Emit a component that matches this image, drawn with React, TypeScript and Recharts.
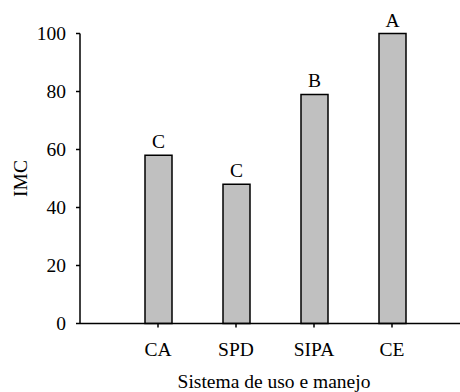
import React from 'react';
import { BarChart, Bar, XAxis, YAxis, LabelList } from 'recharts';

const categories = ['CA', 'SPD', 'SIPA', 'CE'];
const imcValues = [58, 48, 79, 100];
const letters = ['C', 'C', 'B', 'A'];
const yTicks = [0, 20, 40, 60, 80, 100];

const data = categories.map((c, i) => ({ name: c, imc: imcValues[i], letter: letters[i] }));

const FONT = '"Liberation Serif", "Times New Roman", serif';
const FS = 19.5;

export default function App() {
  return (
    <div style={{ position: 'absolute', left: 0, top: 0, width: 460, height: 392, background: '#fff' }}>
      <BarChart
        width={460}
        height={392}
        data={data}
        margin={{ top: 33.5, right: 0, bottom: 0, left: 0 }}
        barCategoryGap={0}
      >
        <XAxis
          dataKey="name"
          type="category"
          height={68.5}
          padding={{ left: 39, right: 29 }}
          axisLine={{ stroke: '#000', strokeWidth: 1.5 }}
          tickLine={{ stroke: '#000', strokeWidth: 1.5 }}
          tickSize={4}
          tickMargin={15}
          tick={{ fill: '#000', fontFamily: FONT, fontSize: FS }}
          label={{
            value: 'Sistema de uso e manejo',
            position: 'insideBottom',
            offset: 4,
            dx: 4,
            fill: '#000',
            fontFamily: FONT,
            fontSize: FS,
          }}
        />
        <YAxis
          type="number"
          domain={[0, 100]}
          ticks={yTicks}
          width={80}
          axisLine={{ stroke: '#000', strokeWidth: 1.5 }}
          tickLine={{ stroke: '#000', strokeWidth: 1.5 }}
          tickSize={4}
          tickMargin={10}
          tick={{ fill: '#000', fontFamily: FONT, fontSize: FS }}
          label={{
            value: 'IMC',
            angle: -90,
            position: 'insideLeft',
            offset: 20,
            style: { textAnchor: 'middle' },
            fill: '#000',
            fontFamily: FONT,
            fontSize: FS,
          }}
        />
        <Bar dataKey="imc" fill="#c0c0c0" stroke="#000" strokeWidth={1.5} barSize={27} isAnimationActive={false}>
          <LabelList
            dataKey="letter"
            position="top"
            offset={7}
            fill="#000"
            fontFamily={FONT}
            fontSize={FS}
          />
        </Bar>
      </BarChart>
    </div>
  );
}
